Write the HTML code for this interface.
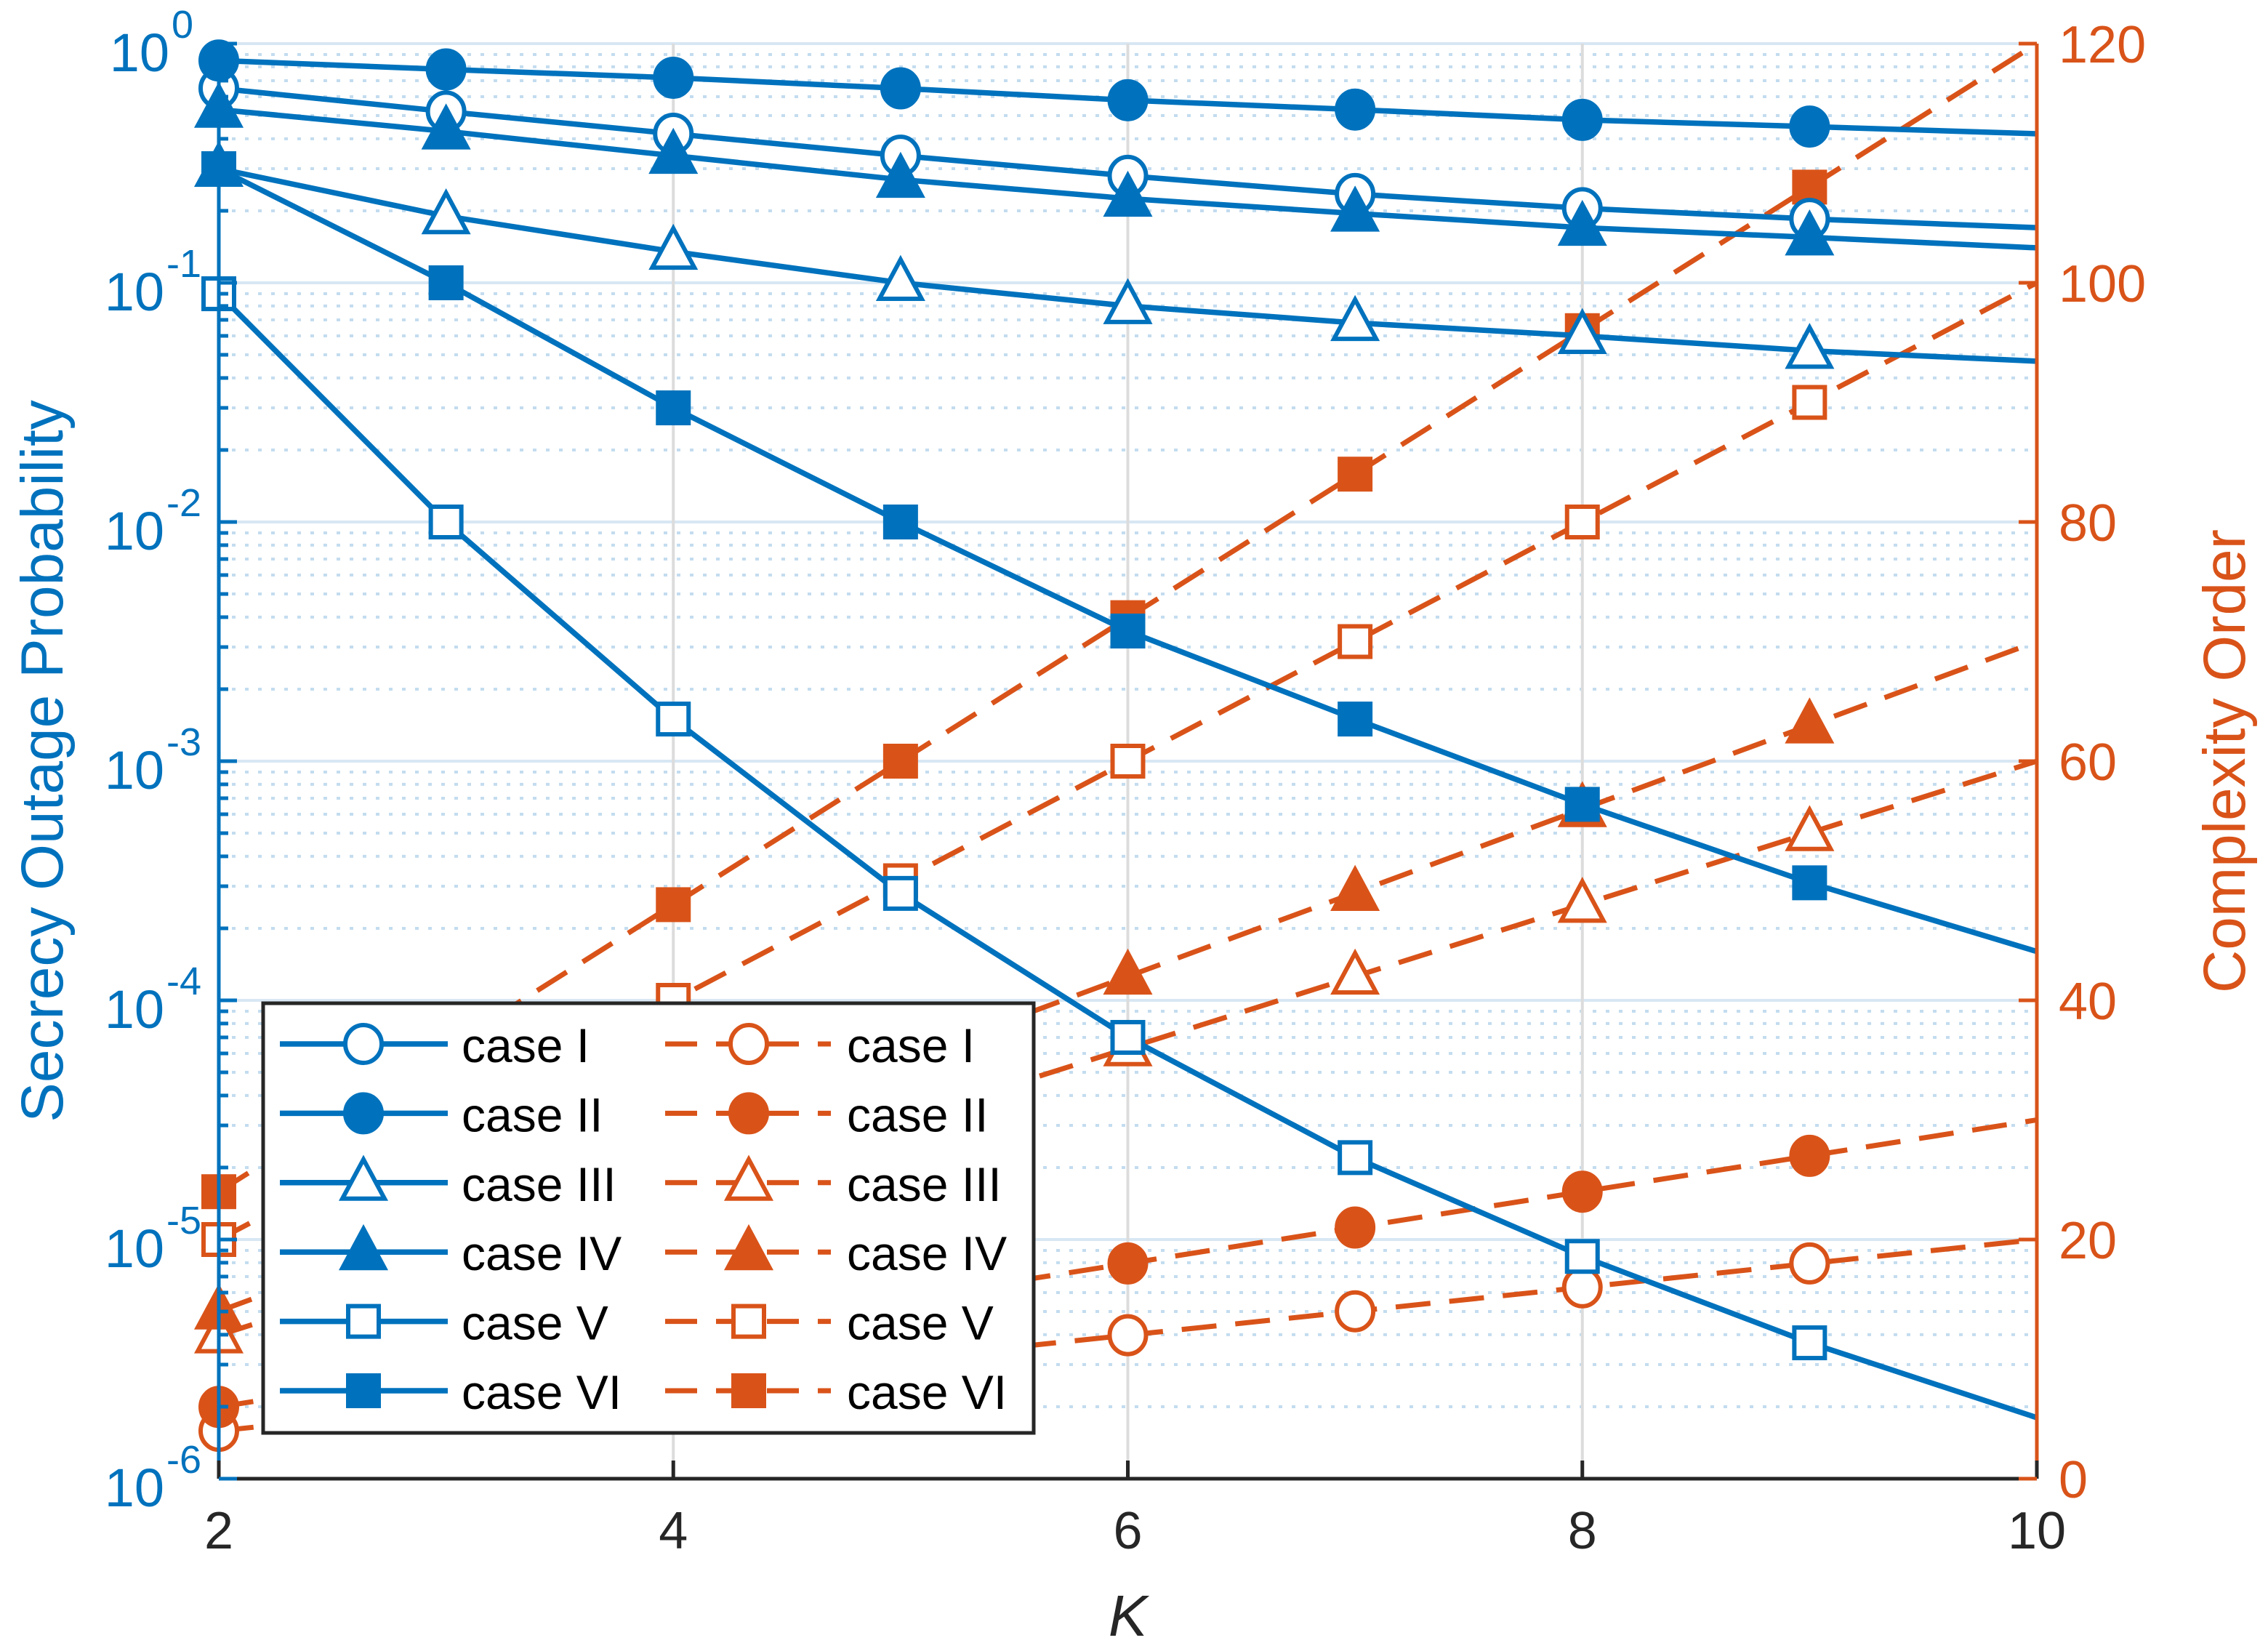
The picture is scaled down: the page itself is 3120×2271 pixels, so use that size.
<!DOCTYPE html>
<html><head><meta charset="utf-8"><style>
html,body{margin:0;padding:0;background:#fff;}
svg{display:block;font-family:"Liberation Sans",Arial,sans-serif;}
</style></head><body>
<svg id="chart" width="3120" height="2271" viewBox="0 0 3120 2271" xmlns="http://www.w3.org/2000/svg">
<rect width="3120" height="2271" fill="#fff"/>
<g id="grid"></g>
<g id="series"></g>
<g id="axes"></g>
<g id="legend"></g>
</svg>
<script>
const kValues = [2,3,4,5,6,7,8,9,10];
const sopCase1 = [0.65,0.52,0.42,0.34,0.28,0.235,0.205,0.185,0.17];
const sopCase2 = [0.85,0.78,0.72,0.65,0.58,0.53,0.48,0.45,0.42];
const sopCase3 = [0.3,0.19,0.135,0.1,0.08,0.068,0.06,0.052,0.047];
const sopCase4 = [0.53,0.43,0.34,0.27,0.225,0.195,0.17,0.155,0.14];
const sopCase5 = [0.09,0.01,0.0015,0.00028,0.00007,0.000022,0.0000085,0.0000037,0.0000018];
const sopCase6 = [0.3,0.1,0.03,0.01,0.0035,0.0015,0.00066,0.00031,0.00016];
const coCase1 = [4,6,8,10,12,14,16,18,20];
const coCase2 = [6,9,12,15,18,21,24,27,30];
const coCase3 = [12,18,24,30,36,42,48,54,60];
const coCase4 = [14,21,28,35,42,49,56,63,70];
const coCase5 = [20,30,40,50,60,70,80,90,100];
const coCase6 = [24,36,48,60,72,84,96,108,120];
const xTicks = [2,4,6,8,10];
const yLeftExps = [0,-1,-2,-3,-4,-5,-6];
const yRightTicks = [0,20,40,60,80,100,120];
const caseNames = ["case I","case II","case III","case IV","case V","case VI"];

const L=301,R=2802,T=60,B=2034;
const BLUE="#0072BD",ORANGE="#D95319";
const NS="http://www.w3.org/2000/svg";
function xS(k){return L+(k-2)/(10-2)*(R-L);}
function yLog(v){return T+(0-Math.log10(v))/6*(B-T);}
function yLin(v){return B-v/120*(B-T);}
function mk(tag,attrs,parent){const e=document.createElementNS(NS,tag);for(const a in attrs)e.setAttribute(a,attrs[a]);parent.appendChild(e);return e;}
const grid=document.getElementById('grid'),series=document.getElementById('series'),axes=document.getElementById('axes'),legend=document.getElementById('legend');

for(let d=-6;d<0;d++){for(let m=2;m<=9;m++){const y=yLog(m*Math.pow(10,d));
 const l=mk('line',{x1:L,x2:R,y1:y,y2:y,stroke:"#c3dcef","stroke-width":4,"stroke-dasharray":"5 13"},grid);
 }}
yLeftExps.forEach(e=>{const y=yLog(Math.pow(10,e));const l=mk('line',{x1:L,x2:R,y1:y,y2:y,stroke:"#d8e7f3","stroke-width":4},grid);
 });
xTicks.forEach(k=>{const x=xS(k);const l=mk('line',{x1:x,x2:x,y1:T,y2:B,stroke:"#dcdcdc","stroke-width":4},grid);
 });

function marker(type,x,y,color,parent){
 const fill=(type[0]==='f')?color:"#fff";let e;
 const sw=6;
 if(type.endsWith('circle'))e=mk('ellipse',{cx:x,cy:y,rx:25,ry:26,fill:fill,stroke:color,"stroke-width":sw},parent);
 else if(type.endsWith('tri'))e=mk('polygon',{points:`${x},${y-32} ${x+29},${y+22} ${x-29},${y+22}`,fill:fill,stroke:color,"stroke-width":sw},parent);
 else e=mk('rect',{x:x-21,y:y-21,width:42,height:42,fill:fill,stroke:color,"stroke-width":sw},parent);
 return e;}
const mtypes=["ocircle","fcircle","otri","ftri","osq","fsq"];
const sopAll=[sopCase1,sopCase2,sopCase3,sopCase4,sopCase5,sopCase6];
const coAll=[coCase1,coCase2,coCase3,coCase4,coCase5,coCase6];

const clip=mk('clipPath',{id:'pc'},series);mk('rect',{x:L-40,y:T-40,width:R-L+40,height:B-T+80},clip);
coAll.forEach((arr,i)=>{const g=mk('g',{"clip-path":"url(#pc)"},series);
 
 const pts=kValues.map((k,j)=>xS(k)+','+yLin(arr[j])).join(' ');
 mk('polyline',{points:pts,fill:'none',stroke:ORANGE,"stroke-width":7,"stroke-dasharray":"48 26"},g);
 kValues.forEach((k,j)=>{if(k<10){const m=marker(mtypes[i],xS(k),yLin(arr[j]),ORANGE,g);
 }});});
sopAll.forEach((arr,i)=>{const g=mk('g',{"clip-path":"url(#pc)"},series);
 
 const pts=kValues.map((k,j)=>xS(k)+','+yLog(arr[j])).join(' ');
 mk('polyline',{points:pts,fill:'none',stroke:BLUE,"stroke-width":7.5},g);
 kValues.forEach((k,j)=>{if(k<10){const m=marker(mtypes[i],xS(k),yLog(arr[j]),BLUE,g);
 }});});

let a=mk('line',{x1:L,x2:R,y1:B,y2:B,stroke:"#262626","stroke-width":5},axes);
a=mk('line',{x1:L,x2:L,y1:T,y2:B,stroke:BLUE,"stroke-width":5},axes);
a=mk('line',{x1:R,x2:R,y1:T,y2:B,stroke:ORANGE,"stroke-width":5},axes);
xTicks.forEach(k=>{const x=xS(k);mk('line',{x1:x,x2:x,y1:B,y2:B-25,stroke:"#262626","stroke-width":5},axes);
 const t=mk('text',{x:x,y:B+96,"font-size":72,fill:"#262626","text-anchor":"middle"},axes);t.textContent=k;
 });
for(let d=-6;d<0;d++){for(let m=2;m<=9;m++){const y=yLog(m*Math.pow(10,d));mk('line',{x1:L,x2:L+13,y1:y,y2:y,stroke:BLUE,"stroke-width":5},axes);}}
yLeftExps.forEach(e=>{const y=yLog(Math.pow(10,e));mk('line',{x1:L,x2:L+25,y1:y,y2:y,stroke:BLUE,"stroke-width":5},axes);
 const t=mk('text',{x:e===0?233:226,y:y+38,"font-size":74,fill:BLUE,"text-anchor":"end"},axes);t.textContent='10';
 
 const s=mk('text',{x:e===0?236:229,y:y-8,"font-size":54,fill:BLUE,"text-anchor":"start"},axes);s.textContent=e===0?'0':'-'+(-e);
 });
yRightTicks.forEach(v=>{const y=yLin(v);mk('line',{x1:R,x2:R-25,y1:y,y2:y,stroke:ORANGE,"stroke-width":5},axes);
 const t=mk('text',{x:R+30,y:y+26,"font-size":72,fill:ORANGE},axes);t.textContent=v;
 });
let t=mk('text',{x:(L+R)/2,y:2250,"font-size":80,"font-style":"italic",fill:"#262626","text-anchor":"middle"},axes);t.textContent='K';

t=mk('text',{x:0,y:0,"font-size":82,fill:BLUE,"text-anchor":"middle",transform:`translate(86,${(T+B)/2}) rotate(-90)`},axes);t.textContent='Secrecy Outage Probability';

t=mk('text',{x:0,y:0,"font-size":82,fill:ORANGE,"text-anchor":"middle",transform:`translate(3088,${(T+B)/2}) rotate(-90)`},axes);t.textContent='Complexity Order';


const lb=mk('rect',{x:362,y:1380,width:1060,height:591,fill:"#fff",stroke:"#262626","stroke-width":5},legend);

caseNames.forEach((n,i)=>{const y=1436+i*95.4;
 const g1=mk('g',{},legend);
 mk('line',{x1:385,x2:616,y1:y,y2:y,stroke:BLUE,"stroke-width":7.5},g1);marker(mtypes[i],500,y,BLUE,g1);
 let tx=mk('text',{x:635,y:y+25,"font-size":66,fill:"#000"},g1);tx.textContent=n;
 const g2=mk('g',{},legend);
 mk('line',{x1:915,x2:1143,y1:y,y2:y,stroke:ORANGE,"stroke-width":7,"stroke-dasharray":"44 26"},g2);marker(mtypes[i],1030,y,ORANGE,g2);
 tx=mk('text',{x:1165,y:y+25,"font-size":66,fill:"#000"},g2);tx.textContent=n;});
</script>
</body></html>
